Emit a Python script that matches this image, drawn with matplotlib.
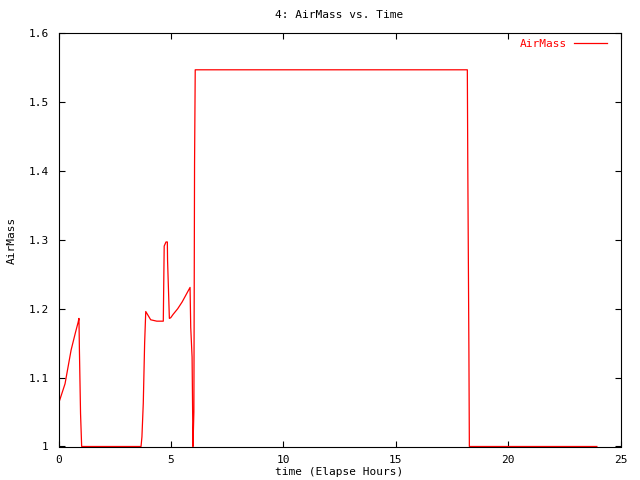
import matplotlib
matplotlib.use("Agg")
import matplotlib.pyplot as plt

time_hours = [0.0, 0.29, 0.56, 0.75, 0.87, 0.91, 0.93, 0.98, 1.03,
              3.67, 3.71, 3.77, 3.83, 3.88, 4.10, 4.37, 4.66,
              4.70, 4.78, 4.84, 4.85, 4.93, 4.99, 5.10, 5.30, 5.50, 5.70, 5.85,
              5.88, 5.94, 5.98, 6.02, 6.05, 6.08,
              18.18, 18.20, 18.25, 18.27, 23.94]
airmass = [1.062, 1.091, 1.140, 1.165, 1.180, 1.186, 1.140, 1.048, 1.0,
           1.0, 1.014, 1.063, 1.150, 1.196, 1.184, 1.182, 1.182,
           1.291, 1.297, 1.297, 1.270, 1.186, 1.187, 1.192, 1.200, 1.210, 1.222, 1.231,
           1.173, 1.130, 1.0, 1.05, 1.41, 1.547,
           1.547, 1.41, 1.138, 1.0, 1.0]

x_ticks = [0, 5, 10, 15, 20, 25]
y_ticks = [1.0, 1.1, 1.2, 1.3, 1.4, 1.5, 1.6]
y_tick_labels = ["1", "1.1", "1.2", "1.3", "1.4", "1.5", "1.6"]

W, H = 640, 480
fig = plt.figure(figsize=(6.4, 4.8), dpi=100)
L, R, T, B = 58.5, 620.7, 33.3, 446.5
ax = fig.add_axes([L / W, 1 - B / H, (R - L) / W, (B - T) / H])

font = "DejaVu Sans Mono"
fs = 8

ax.plot(time_hours, airmass, color="#ff0000", lw=0.9, label="AirMass")
ax.set_xlim(0, 25)
ax.set_ylim(1.0, 1.6)
ax.set_xticks(x_ticks)
ax.set_xticklabels([str(t) for t in x_ticks], fontfamily=font, fontsize=fs)
ax.set_yticks(y_ticks)
ax.set_yticklabels(y_tick_labels, fontfamily=font, fontsize=fs)
ax.tick_params(direction="in", length=4, width=0.8, top=True, right=True)
ax.tick_params(axis="x", pad=6)
ax.tick_params(axis="y", pad=7)
for s in ax.spines.values():
    s.set_linewidth(0.8)

cx = (L + R) / 2 / W
fig.text(cx, 1 - 15 / H, "4: AirMass vs. Time", ha="center", va="center",
         fontfamily=font, fontsize=fs)
fig.text(cx, 1 - 472 / H, "time (Elapse Hours)", ha="center", va="center",
         fontfamily=font, fontsize=fs)
fig.text(12 / W, 1 - 240 / H, "AirMass", ha="center", va="center",
         rotation=90, fontfamily=font, fontsize=fs)

leg = ax.legend(loc="upper right", frameon=False, markerfirst=False,
                prop={"family": font, "size": fs}, labelcolor="#ff0000",
                handlelength=3.0, handletextpad=0.6,
                bbox_to_anchor=(607 / W, 1 - 39 / H), bbox_transform=fig.transFigure,
                borderaxespad=0, borderpad=0)

fig.savefig("out.png", dpi=100)
